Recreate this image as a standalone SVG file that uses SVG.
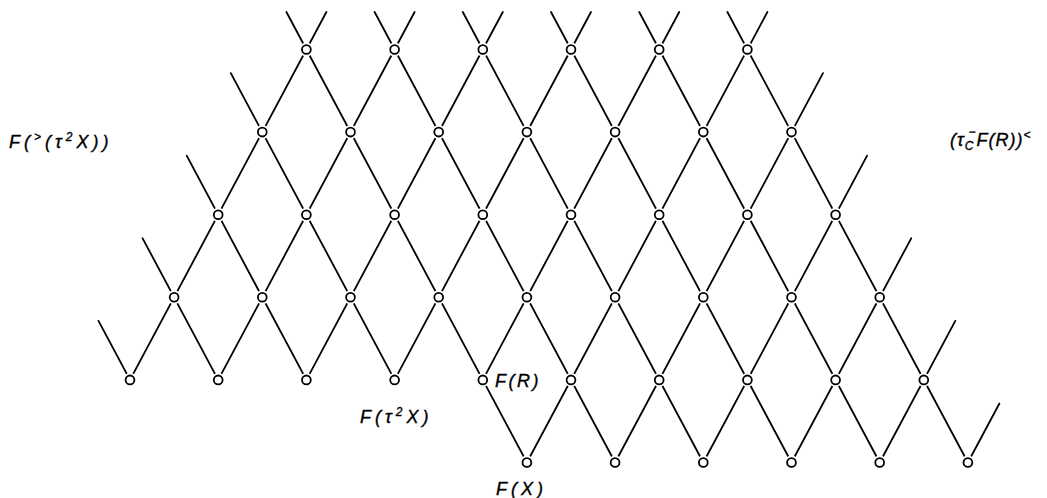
<svg xmlns="http://www.w3.org/2000/svg" xmlns:xlink="http://www.w3.org/1999/xlink" width="1047" height="498" viewBox="0 0 1047 498">
  <style>
    .edge { stroke: #000; stroke-width: 1.8; fill: none; stroke-linecap: round; }
    .lbl { font-family: "Liberation Sans", Arial, sans-serif; font-style: italic; font-size: 18px; fill: #000; stroke: #000; stroke-width: 0.35; letter-spacing: 3px; }
  </style>
  <defs>
    <g id="node">
      <circle r="7" fill="#fff"/>
      <circle r="4.4" fill="#fff" stroke="#000" stroke-width="1.8"/>
    </g>
  </defs>
  <rect width="1047" height="498" fill="#fff"/>
  <g id="connectors" class="edge">
    <path d="M130 379.9 L326.4 12 M218.2 379.9 L414.6 12 M306.4 379.9 L502.8 12 M394.6 379.9 L591 12 M482.8 379.9 L679.2 12 M526.9 462.5 L767.4 12 M615.1 462.5 L823 73.1 M703.3 462.5 L867.1 155.7 M791.5 462.5 L911.2 238.3 M879.7 462.5 L955.3 320.9 M967.9 462.5 L999.4 403.5"/>
    <path d="M286.4 12 L526.9 462.5 M374.6 12 L615.1 462.5 M462.8 12 L703.3 462.5 M551 12 L791.5 462.5 M639.2 12 L879.7 462.5 M727.4 12 L967.9 462.5 M230.8 73.1 L394.6 379.9 M186.7 155.7 L306.4 379.9 M142.6 238.3 L218.2 379.9 M98.5 320.9 L130 379.9"/>
  </g>
  <g id="nodes">
    <g id="n0-0"><use xlink:href="#node" x="306.4" y="49.5"/></g>
    <g id="n0-1"><use xlink:href="#node" x="394.6" y="49.5"/></g>
    <g id="n0-2"><use xlink:href="#node" x="482.8" y="49.5"/></g>
    <g id="n0-3"><use xlink:href="#node" x="571" y="49.5"/></g>
    <g id="n0-4"><use xlink:href="#node" x="659.2" y="49.5"/></g>
    <g id="n0-5"><use xlink:href="#node" x="747.4" y="49.5"/></g>

    <g id="n1-0"><use xlink:href="#node" x="262.3" y="132.1"/></g>
    <g id="n1-1"><use xlink:href="#node" x="350.5" y="132.1"/></g>
    <g id="n1-2"><use xlink:href="#node" x="438.7" y="132.1"/></g>
    <g id="n1-3"><use xlink:href="#node" x="526.9" y="132.1"/></g>
    <g id="n1-4"><use xlink:href="#node" x="615.1" y="132.1"/></g>
    <g id="n1-5"><use xlink:href="#node" x="703.3" y="132.1"/></g>
    <g id="n1-6"><use xlink:href="#node" x="791.5" y="132.1"/></g>

    <g id="n2-0"><use xlink:href="#node" x="218.2" y="214.7"/></g>
    <g id="n2-1"><use xlink:href="#node" x="306.4" y="214.7"/></g>
    <g id="n2-2"><use xlink:href="#node" x="394.6" y="214.7"/></g>
    <g id="n2-3"><use xlink:href="#node" x="482.8" y="214.7"/></g>
    <g id="n2-4"><use xlink:href="#node" x="571" y="214.7"/></g>
    <g id="n2-5"><use xlink:href="#node" x="659.2" y="214.7"/></g>
    <g id="n2-6"><use xlink:href="#node" x="747.4" y="214.7"/></g>
    <g id="n2-7"><use xlink:href="#node" x="835.6" y="214.7"/></g>

    <g id="n3-0"><use xlink:href="#node" x="174.1" y="297.3"/></g>
    <g id="n3-1"><use xlink:href="#node" x="262.3" y="297.3"/></g>
    <g id="n3-2"><use xlink:href="#node" x="350.5" y="297.3"/></g>
    <g id="n3-3"><use xlink:href="#node" x="438.7" y="297.3"/></g>
    <g id="n3-4"><use xlink:href="#node" x="526.9" y="297.3"/></g>
    <g id="n3-5"><use xlink:href="#node" x="615.1" y="297.3"/></g>
    <g id="n3-6"><use xlink:href="#node" x="703.3" y="297.3"/></g>
    <g id="n3-7"><use xlink:href="#node" x="791.5" y="297.3"/></g>
    <g id="n3-8"><use xlink:href="#node" x="879.7" y="297.3"/></g>

    <g id="n4-0"><use xlink:href="#node" x="130" y="379.9"/></g>
    <g id="n4-1"><use xlink:href="#node" x="218.2" y="379.9"/></g>
    <g id="n4-2"><use xlink:href="#node" x="306.4" y="379.9"/></g>
    <g id="n4-3-FtauX"><use xlink:href="#node" x="394.6" y="379.9"/></g>
    <g id="n4-4-FR"><use xlink:href="#node" x="482.8" y="379.9"/></g>
    <g id="n4-5"><use xlink:href="#node" x="571" y="379.9"/></g>
    <g id="n4-6"><use xlink:href="#node" x="659.2" y="379.9"/></g>
    <g id="n4-7"><use xlink:href="#node" x="747.4" y="379.9"/></g>
    <g id="n4-8"><use xlink:href="#node" x="835.6" y="379.9"/></g>
    <g id="n4-9"><use xlink:href="#node" x="923.8" y="379.9"/></g>

    <g id="n5-0-FX"><use xlink:href="#node" x="526.9" y="462.5"/></g>
    <g id="n5-1"><use xlink:href="#node" x="615.1" y="462.5"/></g>
    <g id="n5-2"><use xlink:href="#node" x="703.3" y="462.5"/></g>
    <g id="n5-3"><use xlink:href="#node" x="791.5" y="462.5"/></g>
    <g id="n5-4"><use xlink:href="#node" x="879.7" y="462.5"/></g>
    <g id="n5-5"><use xlink:href="#node" x="967.9" y="462.5"/></g>
  </g>
  <g id="labels">
    <text class="lbl" x="9" y="148" style="letter-spacing:4px">F(<tspan dy="-7" font-size="12">&gt;</tspan><tspan dy="7">(τ</tspan><tspan dy="-7" font-size="12">2</tspan><tspan dy="7">X))</tspan></text>
    <text class="lbl" x="950" y="146" style="letter-spacing:1px">(τ<tspan dy="4" font-size="12">C</tspan><tspan dx="-6" dy="-14" font-size="12">−</tspan><tspan dy="10">F(R))</tspan><tspan dy="-7" font-size="12">&lt;</tspan></text>
    <text class="lbl" x="495" y="387" style="letter-spacing:2.5px">F(R)</text>
    <text class="lbl" x="360" y="423" style="letter-spacing:4px">F(τ<tspan dy="-7" font-size="12">2</tspan><tspan dy="7">X)</tspan></text>
    <text class="lbl" x="496" y="495" style="letter-spacing:4px">F(X)</text>
  </g>
</svg>
